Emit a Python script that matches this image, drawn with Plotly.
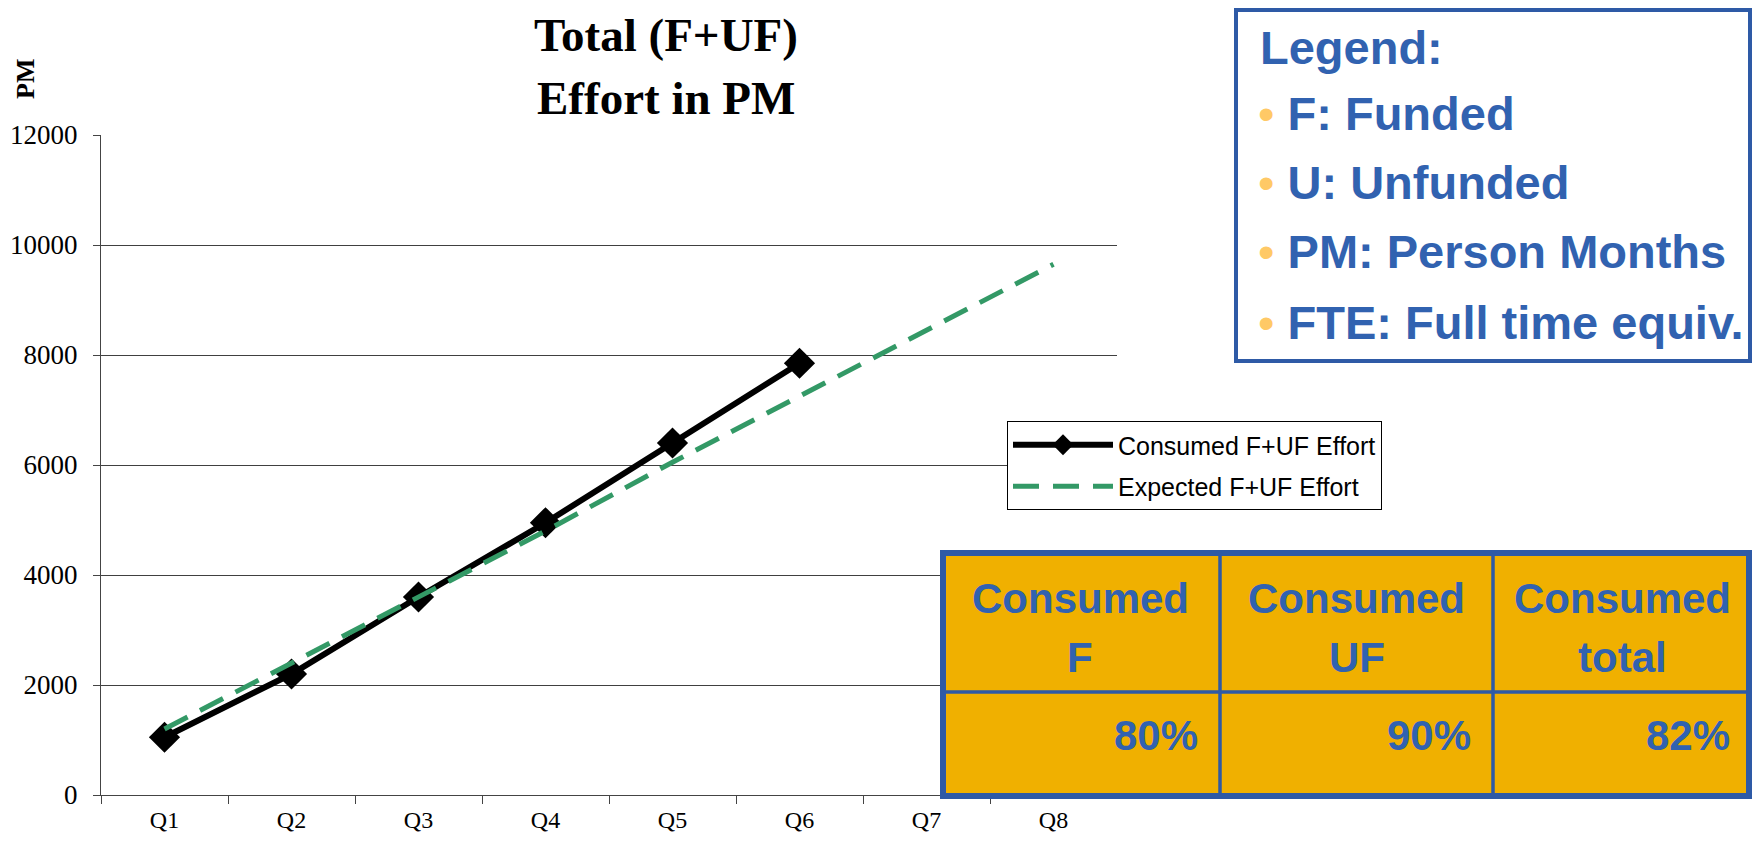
import plotly.graph_objects as go

# Page is 1760x846; the HTML body has an 8px margin, so the figure is made
# smaller by that margin on each side to avoid page overflow.
PAGE_W, PAGE_H, OFF = 1760, 846, 8
FW, FH = PAGE_W - 2 * OFF, PAGE_H - 2 * OFF

quarters = ["Q1", "Q2", "Q3", "Q4", "Q5", "Q6", "Q7", "Q8"]
consumed = [1050, 2200, 3600, 4950, 6400, 7850]
expected = [1200, 2400, 3600, 4800, 6050, 7250, 8450, 9650]
y_ticks = [0, 2000, 4000, 6000, 8000, 10000, 12000]
y_tick_labels = ["0", "2000", "4000", "6000", "8000", "10000", "12000"]

title_lines = ["Total (F+UF)", "Effort in PM"]
legend_title = "Legend:"
legend_items = ["F: Funded", "U: Unfunded", "PM: Person Months", "FTE: Full time equiv."]

table_head1 = ["Consumed", "Consumed", "Consumed"]
table_head2 = ["F", "UF", "total"]
table_values = ["80%", "90%", "82%"]

SERIF = "Liberation Serif, Times New Roman, serif"
SANS = "Liberation Sans, Arial, sans-serif"
BLUE = "#3162B0"
BORDER = "#2E5AA6"


def px(x):
    return (x - OFF) / FW


def py(y):
    return 1 - (y - OFF) / FH


fig = go.Figure()
fig.add_trace(go.Scatter(
    x=quarters[:len(consumed)], y=consumed, name="Consumed F+UF Effort",
    mode="lines+markers", line=dict(color="black", width=6),
    marker=dict(symbol="diamond", size=24, color="black"),
    legendgroup="a",
))
fig.add_trace(go.Scatter(
    x=quarters, y=expected, name="Expected F+UF Effort",
    mode="lines", line=dict(color="#339966", width=5, dash="26px,14px"),
    legendgroup="b",
))

shapes = []
annotations = []

# Title
for txt, yy in zip(title_lines, [35, 98]):
    annotations.append(dict(text="<b>" + txt + "</b>", x=px(666), y=py(yy), xref="paper", yref="paper",
                            xanchor="center", yanchor="middle", showarrow=False,
                            font=dict(family=SERIF, size=47, color="black")))
# Y-axis title
annotations.append(dict(text="<b>PM</b>", x=px(26), y=py(79), xref="paper", yref="paper",
                        xanchor="center", yanchor="middle", showarrow=False, textangle=-90,
                        font=dict(family=SERIF, size=26, color="black")))

# Top-right legend box
shapes.append(dict(type="rect", xref="paper", yref="paper",
                   x0=px(1236), x1=px(1750), y0=py(10), y1=py(361),
                   line=dict(color=BORDER, width=4), fillcolor="white"))
annotations.append(dict(text="<b>" + legend_title + "</b>", x=px(1258), y=py(47),
                        xref="paper", yref="paper", xanchor="left", yanchor="middle",
                        showarrow=False, font=dict(family=SANS, size=47, color=BLUE)))
for txt, yy in zip(legend_items, [114, 183, 252, 322]):
    annotations.append(dict(
        text='<span style="color:#FFC966">\u2022</span> <b>' + txt + "</b>",
        x=px(1256), y=py(yy), xref="paper", yref="paper", xanchor="left", yanchor="middle",
        showarrow=False, font=dict(family=SANS, size=47, color=BLUE)))

# Table
tx0, tx1, ty0, ty1, tmid = 940, 1752, 550, 799, 692
cols = [940, 1220, 1493, 1752]
shapes.append(dict(type="rect", xref="paper", yref="paper",
                   x0=px(tx0), x1=px(tx1), y0=py(ty0), y1=py(ty1),
                   line=dict(width=0), fillcolor="#F0B000"))
for cx in cols[1:-1]:
    shapes.append(dict(type="line", xref="paper", yref="paper",
                       x0=px(cx), x1=px(cx), y0=py(ty0), y1=py(ty1),
                       line=dict(color=BORDER, width=3.5)))
shapes.append(dict(type="line", xref="paper", yref="paper",
                   x0=px(tx0), x1=px(tx1), y0=py(tmid), y1=py(tmid),
                   line=dict(color=BORDER, width=3.5)))
shapes.append(dict(type="rect", xref="paper", yref="paper",
                   x0=px(tx0 + 3), x1=px(tx1 - 3), y0=py(ty0 + 3), y1=py(ty1 - 3),
                   line=dict(color=BORDER, width=6)))
for i in range(3):
    cc = (cols[i] + cols[i + 1]) / 2
    annotations.append(dict(text="<b>" + table_head1[i] + "</b>", x=px(cc), y=py(598),
                            xref="paper", yref="paper", xanchor="center", yanchor="middle",
                            showarrow=False, font=dict(family=SANS, size=42, color=BLUE)))
    annotations.append(dict(text="<b>" + table_head2[i] + "</b>", x=px(cc), y=py(657),
                            xref="paper", yref="paper", xanchor="center", yanchor="middle",
                            showarrow=False, font=dict(family=SANS, size=42, color=BLUE)))
    annotations.append(dict(text="<b>" + table_values[i] + "</b>", x=px(cols[i + 1] - 20), y=py(735),
                            xref="paper", yref="paper", xanchor="right", yanchor="middle",
                            showarrow=False, font=dict(family=SANS, size=42, color=BLUE)))

fig.update_layout(
    width=FW, height=FH,
    margin=dict(l=0, r=0, t=0, b=0, autoexpand=False),
    paper_bgcolor="white", plot_bgcolor="white",
    showlegend=True,
    legend=dict(x=px(1007), y=py(421), xanchor="left", yanchor="top",
                bgcolor="white", bordercolor="#000", borderwidth=1,
                font=dict(family=SANS, size=25, color="black"),
                itemwidth=100, tracegroupgap=6),
    xaxis=dict(domain=[px(101), px(1117)], type="category", categoryorder="array",
               categoryarray=quarters, range=[-0.5, 7.5], tickson="boundaries",
               ticks="outside", ticklen=8, tickcolor="#444", showgrid=False,
               showline=True, linecolor="#444", linewidth=1, ticklabelstandoff=3,
               tickfont=dict(family=SERIF, size=24, color="black"), zeroline=False,
               automargin=False, fixedrange=True),
    yaxis=dict(domain=[py(795), py(135)], range=[0, 12000], tickvals=y_ticks,
               ticktext=y_tick_labels,
               ticks="outside", ticklen=7, tickcolor="#444", showgrid=True,
               gridcolor="#404040", gridwidth=1, showline=True, linecolor="#444",
               linewidth=1, zeroline=False, ticklabelstandoff=10, automargin=False,
               tickfont=dict(family=SERIF, size=27, color="black"), fixedrange=True),
    shapes=shapes,
    annotations=annotations,
)

fig.write_html("out.html")
